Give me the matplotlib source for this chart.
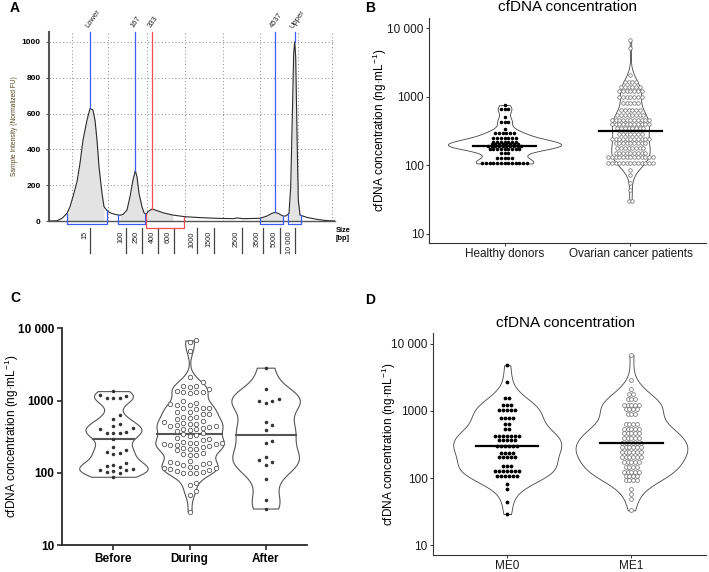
"""
cfDNA figure: electropherogram (A) + violin/dot plots of cfDNA concentration (B-D)
"""

import numpy as np
import matplotlib
matplotlib.use("Agg")
import matplotlib.pyplot as plt
import matplotlib.ticker as mticker
from matplotlib import cbook, mlab

plt.rcParams['font.family'] = ['Liberation Sans', 'DejaVu Sans']
plt.rcParams['mathtext.fontset'] = 'custom'
plt.rcParams['mathtext.rm'] = 'Liberation Sans'
plt.rcParams['mathtext.it'] = 'Liberation Sans:italic'
plt.rcParams['mathtext.bf'] = 'Liberation Sans:bold'

# ---- A: electropherogram trace (migration position, FU)
trace_pos = [0, 8, 13, 18, 21, 24, 28, 31, 34, 38, 41, 44, 46, 48, 50, 53, 55, 58, 61, 66,
             71, 74, 78, 81, 84, 86.3, 88, 90, 93, 95, 97, 99, 103, 108, 114, 124, 136, 151,
             168, 184, 188, 194, 211, 218, 223, 226, 229, 234, 237, 240, 241.7, 243.3, 244.7,
             245.7, 246.7, 248, 249.3, 251, 258, 268, 278, 286]
trace_fu = [0, 1, 15, 43, 80, 136, 219, 322, 452, 563, 628, 619, 563, 452, 303, 154, 80, 58, 46, 37,
            32, 37, 61, 136, 229, 281, 247, 154, 80, 46, 37, 52, 67, 58, 46, 33, 24, 19,
            15, 13, 17, 13, 15, 28, 43, 48, 43, 28, 28, 43, 191, 582, 935,
            1000, 916, 489, 117, 33, 20, 9, 2, 0]
peak_names = ['Lower', '167', '333', '4537', 'Upper']
peak_pos = [41, 86.3, 103, 225.7, 245.7]
peak_fu = [628, 281, 67, 48, 1000]
peak_colors = ['#3d5cf5', '#3d5cf5', '#f05050', '#3d5cf5', '#3d5cf5']
ladder_bp = ['15', '100', '250', '400', '600', '1000', '1500', '2500', '3500', '5000', '10 000']
ladder_pos = [41, 77, 93, 109, 125, 148, 165, 193, 214, 231, 246]
region_lo = [17.7, 69.3, 96.7, 211, 238.7]
region_hi = [57.7, 96, 135.3, 234.3, 252]
region_colors = ['#3d5cf5', '#3d5cf5', '#f05050', '#3d5cf5', '#3d5cf5']
grid_pos = [23, 59, 98, 136, 174, 211, 249, 283]

# ---- B: healthy donors vs ovarian cancer patients (dot rows: value, count)
healthy_rows = [760, 660, 505, 435, 345, 300, 250, 222, 205, 195, 175, 150, 128, 107]
healthy_counts = [1, 3, 1, 3, 1, 6, 7, 7, 8, 10, 9, 3, 5, 13]
ovarian_rows = [6740, 5100, 2085, 1665, 1407, 1230, 1006, 823, 644, 544, 460, 402, 348,
                287, 243, 210, 178, 150, 131, 110, 86, 73, 55, 44, 30]
ovarian_counts = [1, 1, 1, 4, 6, 7, 7, 5, 6, 8, 11, 11, 8, 7, 11, 9, 8, 9, 13, 13, 1, 1, 1, 1, 2]

# ---- C: before / during / after
before_vals = [1350, 1200, 1150, 1100, 1090, 1080, 640, 550, 480, 440, 420, 400, 365, 360, 360,
               355, 290, 225, 205, 195, 190, 180, 135, 128, 125, 120, 113, 110, 108, 105, 102,
               100, 88]
during_vals = [6800, 6500, 4900, 2090, 1800, 1600, 1600, 1550, 1450, 1350, 1300, 1300, 1280, 1320,
               980, 920, 900, 880, 860, 800, 780, 790, 770, 700, 650, 660, 690, 600, 580, 590, 560,
               520, 500, 490, 480, 460, 450, 440, 430, 420, 410, 470, 400, 390, 380, 335, 325,
               350, 340, 300, 290, 280, 270, 260, 260, 250, 245, 240, 235, 250, 255, 230,
               220, 215, 210, 205, 185, 180, 178, 175, 145, 140, 138, 135, 132, 130,
               122, 120, 118, 115, 112, 108, 105, 103, 100, 100, 99, 72, 68, 56, 49, 29]
after_vals = [2850, 1430, 1050, 1000, 980, 930, 500, 454, 390, 277, 260, 166, 150, 142, 128,
              81, 42, 32]
c_labels = ['Before', 'During', 'After']

# ---- D: ME0 vs ME1 (dot rows: value, count)
me0_rows = [4800, 2680, 1535, 1240, 1020, 795, 649, 534, 426, 371, 297, 236, 204, 153, 129,
            109, 82, 69, 44, 29]
me0_counts = [1, 1, 2, 3, 5, 4, 2, 2, 7, 5, 6, 4, 5, 3, 7, 6, 1, 1, 1, 1]
me1_rows = [6870, 2865, 2090, 1763, 1486, 1211, 1057, 891, 634, 547, 466, 389, 332, 287, 242,
            204, 172, 145, 125, 109, 95, 69, 58, 49, 33]
me1_counts = [1, 1, 1, 2, 3, 5, 4, 3, 4, 5, 5, 5, 6, 6, 6, 6, 5, 4, 5, 4, 4, 1, 1, 1, 1]

ylab = 'cfDNA concentration (ng·mL$^{-1}$)'
dec_ticks = [10, 100, 1000, 10000]
dec_labels = ['10', '100', '1000', '10 000']

W, H = 709, 572
fig = plt.figure(figsize=(W / 100, H / 100), dpi=100)


def add_ax(left, top, right, bottom):
    return fig.add_axes([left / W, 1 - bottom / H, (right - left) / W, (bottom - top) / H])


def density(vals, bw_scale=1.0):
    lv = np.log10(np.asarray(vals, float))
    sd = lv.std(ddof=1)
    q75, q25 = np.percentile(lv, [75, 25])
    bw = 0.9 * min(sd, (q75 - q25) / 1.34) * len(lv) ** -0.2 * bw_scale

    def kde(X, coords):
        return mlab.GaussianKDE(X, bw / X.std(ddof=1)).evaluate(coords)

    st = cbook.violin_stats(lv, kde, points=300)[0]
    return 10 ** st['coords'], st['vals']


def dot_rows(ax, rows, counts, pos, step, **kw):
    xs, ys = [], []
    for v, n in zip(rows, counts):
        for i in range(n):
            xs.append(pos + (i - (n - 1) / 2) * step)
            ys.append(v)
    ax.scatter(xs, ys, zorder=3, **kw)


def swarm(vals, pos, d_px, px_unit, px_dec):
    ys = np.log10(vals) * px_dec
    placed = []
    xs = np.zeros(len(vals))
    for i in np.argsort(ys):
        for k in [0, 1, -1, 2, -2, 3, -3, 4, -4, 5, -5, 6, -6]:
            x = k * d_px
            if all((x - a) ** 2 + (ys[i] - b) ** 2 >= (0.85 * d_px) ** 2 for a, b in placed):
                break
        placed.append((x, ys[i]))
        xs[i] = pos + x / px_unit
    return xs


def gg_style(ax, ylim, labels):
    ax.set_yscale('log')
    ax.set_ylim(*ylim)
    ax.set_xlim(0.4, 2.6)
    ax.set_yticks(dec_ticks, dec_labels)
    ax.yaxis.set_minor_locator(mticker.NullLocator())
    ax.set_xticks([1, 2], labels)
    for s in ['top', 'right']:
        ax.spines[s].set_visible(False)
    for s in ['left', 'bottom']:
        ax.spines[s].set_color('#333333')
        ax.spines[s].set_linewidth(0.8)
    ax.tick_params(length=2.2, width=0.7, color='#333333', labelsize=8.5,
                   labelcolor='#1a1a1a', pad=1.5)


# ================= A =================
axA = add_ax(49, 32, 335, 221)
x = np.array(trace_pos)
y = np.array(trace_fu)
for lo, hi in zip(region_lo, region_hi):
    axA.fill_between(x, y, where=(x >= lo) & (x <= hi), color='#e3e3e3', lw=0, zorder=1)
axA.plot(x, y, color='#2a2a2a', lw=0.8, zorder=3)
axA.set_xlim(0, 286)
axA.set_ylim(0, 1055)
axA.set_yticks([0, 200, 400, 600, 800, 1000])
axA.set_xticks(grid_pos)
axA.set_xticklabels([])
axA.grid(True, ls=(0, (1, 2.5)), color='#8a8a8a', lw=0.7, zorder=0)
axA.set_axisbelow(True)
for s in ['top', 'right']:
    axA.spines[s].set_visible(False)
axA.spines['left'].set_color('#555555')
axA.spines['left'].set_linewidth(1.5)
axA.spines['bottom'].set_color('#555555')
axA.spines['bottom'].set_linewidth(1.0)
axA.tick_params(axis='x', length=0)
axA.tick_params(axis='y', length=2, width=0.8, color='#555555', labelsize=6, pad=4)
for t in axA.get_yticklabels():
    t.set_fontweight('bold')
axA.set_ylabel('Sample Intensity (Normalized FU)', fontsize=4.8, color='#5c4a1e')
axA.yaxis.set_label_coords(-0.11, 0.5)

for name, p, f, c in zip(peak_names, peak_pos, peak_fu, peak_colors):
    axA.plot([p, p], [f, 1055], color=c, lw=0.9, clip_on=False, zorder=4)
    axA.text(p - 3, 1080, name, rotation=55, fontsize=5.5, ha='left', va='center',
             rotation_mode='anchor', color='#222222')

for lo, hi, c in zip(region_lo, region_hi, region_colors):
    b = -37 if c == '#f05050' else -17
    axA.plot([lo, lo, hi, hi], [np.interp(lo, x, y), b, b, np.interp(hi, x, y)],
             color=c, lw=0.9, clip_on=False, zorder=4)

for lab, p in zip(ladder_bp, ladder_pos):
    axA.plot([p, p], [-39, -178], color='#444444', lw=0.9, clip_on=False)
    axA.text(p - 2, -56, lab, rotation=90, ha='right', va='top', fontsize=5.3, color='#222222')
axA.text(287, -75, 'Size\n[bp]', fontsize=5.3, fontweight='bold', ha='left', va='center',
         linespacing=1.2)

# ================= B =================
axB = add_ax(429, 18, 706, 243)
gg_style(axB, (7.39, 14125), ['Healthy donors', 'Ovarian cancer patients'])
hd = np.repeat(healthy_rows, healthy_counts)
ov = np.repeat(ovarian_rows, ovarian_counts)
dens = [density(hd), density(ov)]
scale = 0.45 / max(d.max() for _, d in dens)
for pos, (yy, d) in zip([1, 2], dens):
    axB.fill_betweenx(yy, pos - d * scale, pos + d * scale, facecolor='white',
                      edgecolor='#444444', lw=0.6, zorder=1)
dot_rows(axB, healthy_rows, healthy_counts, 1, 0.0294, s=6.5, color='black', lw=0)
dot_rows(axB, ovarian_rows, ovarian_counts, 2, 0.0294, s=6.5, facecolor='white',
         edgecolor='#6a6a6a', lw=0.5)
for pos, v in zip([1, 2], [hd, ov]):
    m = np.median(v)
    axB.plot([pos - 0.25, pos + 0.25], [m, m], color='black', lw=1.6, zorder=4)
axB.set_ylabel(ylab, fontsize=8.5)
axB.yaxis.set_label_coords(-0.144, 0.5)
fig.text(567.5 / W, 1 - 7 / H, 'cfDNA concentration', fontsize=11, ha='center', va='center')

# ================= C =================
axC = add_ax(61.7, 328.3, 306.7, 545)
axC.set_yscale('log')
axC.set_ylim(10, 10000)
axC.set_xlim(0.32, 3.54)
px_unit = 245 / (3.54 - 0.32)
px_dec = 72.2
for pos, vals in zip([1, 2, 3], [before_vals, during_vals, after_vals]):
    yy, d = density(vals, 0.6)
    half = 0.45 / d.max()
    axC.fill_betweenx(yy, pos - d * half, pos + d * half, facecolor='white',
                      edgecolor='#555555', lw=0.8, zorder=1)
    m = np.median(vals)
    w = np.interp(np.log10(m), np.log10(yy), d) * half
    axC.plot([pos - w, pos + w], [m, m], color='#555555', lw=1.5, zorder=2)
axC.scatter(swarm(before_vals, 1, 6.5, px_unit, px_dec), before_vals, s=6.5,
            color='#333333', lw=0, zorder=3)
axC.scatter(swarm(during_vals, 2, 6.5, px_unit, px_dec), during_vals, s=10,
            facecolor='white', edgecolor='#555555', lw=0.6, zorder=3)
axC.scatter(swarm(after_vals, 3, 6.5, px_unit, px_dec), after_vals, s=6.5,
            color='#333333', lw=0, zorder=3)
axC.set_yticks(dec_ticks, dec_labels)
axC.yaxis.set_minor_locator(mticker.NullLocator())
axC.set_xticks([1, 2, 3], c_labels)
for s in ['top', 'right']:
    axC.spines[s].set_visible(False)
for s in ['left', 'bottom']:
    axC.spines[s].set_color('#2a2a2a')
    axC.spines[s].set_linewidth(1.3)
axC.tick_params(length=3.5, width=1.2, color='#2a2a2a', labelsize=8.5, pad=2)
for t in axC.get_xticklabels() + axC.get_yticklabels():
    t.set_fontweight('bold')
axC.set_ylabel(ylab, fontsize=8.5)
axC.yaxis.set_label_coords(-0.166, 0.5)

# ================= D =================
axD = add_ax(432.7, 333.3, 706, 555)
gg_style(axD, (7.11, 14390), ['ME0', 'ME1'])
m0 = np.repeat(me0_rows, me0_counts)
m1 = np.repeat(me1_rows, me1_counts)
dens = [density(m0), density(m1)]
scale = 0.45 / max(d.max() for _, d in dens)
for pos, (yy, d) in zip([1, 2], dens):
    axD.fill_betweenx(yy, pos - d * scale, pos + d * scale, facecolor='white',
                      edgecolor='#444444', lw=0.6, zorder=1)
dot_rows(axD, me0_rows, me0_counts, 1, 0.0318, s=7.5, color='black', lw=0)
dot_rows(axD, me1_rows, me1_counts, 2, 0.0318, s=7.5, facecolor='white',
         edgecolor='#6a6a6a', lw=0.5)
for pos, v in zip([1, 2], [m0, m1]):
    m = np.median(v)
    axD.plot([pos - 0.25, pos + 0.25], [m, m], color='black', lw=1.6, zorder=4)
axD.set_ylabel(ylab, fontsize=8.5)
axD.yaxis.set_label_coords(-0.127, 0.5)
fig.text(566 / W, 1 - 323 / H, 'cfDNA concentration', fontsize=11, ha='center', va='center')

# panel letters
for lab, px, py in [('A', 15, 8), ('B', 370, 8), ('C', 15, 298), ('D', 370, 300)]:
    fig.text(px / W, 1 - py / H, lab, fontsize=10, fontweight='bold', ha='center', va='center')

fig.savefig('out.png', dpi=100)
